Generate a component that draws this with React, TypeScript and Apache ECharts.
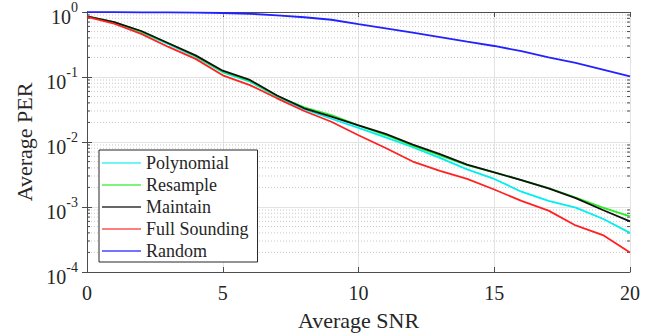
import React, { useEffect, useRef } from "react";
import * as echarts from "echarts";

const snr = [0, 1, 2, 3, 4, 5, 6, 7, 8, 9, 10, 11, 12, 13, 14, 15, 16, 17, 18, 19, 20];
const polynomial = [0.86, 0.69, 0.49, 0.32, 0.205, 0.118, 0.085, 0.05, 0.032, 0.0228, 0.0165, 0.0118, 0.0083, 0.0057, 0.0038, 0.0027, 0.00172, 0.00124, 0.00098, 0.00066, 0.0004];
const resample = [0.86, 0.7, 0.5, 0.33, 0.21, 0.122, 0.088, 0.051, 0.034, 0.026, 0.018, 0.0128, 0.0088, 0.0062, 0.0044, 0.0034, 0.0026, 0.00195, 0.0014, 0.00098, 0.00072];
const maintain = [0.86, 0.7, 0.51, 0.33, 0.215, 0.125, 0.09, 0.052, 0.033, 0.0245, 0.018, 0.0133, 0.0091, 0.0065, 0.0045, 0.0034, 0.0026, 0.00194, 0.00137, 0.0009, 0.0006];
const fullSounding = [0.84, 0.66, 0.46, 0.29, 0.19, 0.106, 0.075, 0.047, 0.03, 0.0205, 0.0127, 0.0081, 0.005, 0.0036, 0.0027, 0.00186, 0.00124, 0.00088, 0.00052, 0.00037, 0.0002];
const random = [0.995, 0.995, 0.99, 0.99, 0.98, 0.965, 0.94, 0.89, 0.83, 0.76, 0.65, 0.56, 0.48, 0.41, 0.35, 0.3, 0.25, 0.2, 0.165, 0.13, 0.102];

const seriesNames = ["Polynomial", "Resample", "Maintain", "Full Sounding", "Random"];
const seriesColors = ["#00eeee", "#22ee22", "#111111", "#ff2222", "#2222ff"];
const legendColors = ["#40f0f0", "#50f050", "#333333", "#ff5555", "#4444ff"];
const seriesValues = [polynomial, resample, maintain, fullSounding, random];

const minorMultipliers = [2, 3, 4, 5, 6, 7, 8, 9];
const decades = [1e-4, 1e-3, 1e-2, 1e-1];

const FONT = "Liberation Serif";
const TEXT = "#262626";
const AXIS = "#4d4d4d";

export default function App() {
  const ref = useRef<HTMLDivElement>(null);
  useEffect(() => {
    if (!ref.current) return;
    const chart = echarts.init(ref.current, undefined, { renderer: "svg" });
    const minorValues: number[][] = [];
    decades.forEach((d) => minorMultipliers.forEach((m) => minorValues.push([0, +(d * m).toPrecision(3)])));

    const lineSeries = seriesNames.map((name, i) => ({
      name,
      type: "line",
      data: snr.map((x, j) => [x, seriesValues[i][j]]),
      symbol: "none",
      showSymbol: false,
      lineStyle: { color: seriesColors[i], width: 1.8 },
      itemStyle: { color: seriesColors[i] },
      z: 3,
    }));

    const legendText = { fontFamily: FONT, fontSize: 18, color: TEXT, lineHeight: 22 };

    chart.setOption({
      animation: false,
      textStyle: { fontFamily: FONT },
      grid: { left: 87, top: 9, right: 41, bottom: 64, show: false },
      legend: {
        data: seriesNames.map((n, i) => ({
          name: n,
          itemStyle: { color: legendColors[i] },
          textStyle: legendText,
        })),
        orient: "vertical",
        left: 99,
        top: 150,
        padding: [2, 9, 0, 3],
        icon: "rect",
        itemWidth: 39,
        itemHeight: 1.5,
        itemGap: 0,
        backgroundColor: "#ffffff",
        borderColor: "#262626",
        borderWidth: 1,
        borderRadius: 0,
        textStyle: legendText,
      },
      xAxis: [
        {
          type: "value",
          min: 0,
          max: 20,
          interval: 5,
          name: "Average SNR",
          nameLocation: "middle",
          nameGap: 37,
          nameTextStyle: { fontFamily: FONT, fontSize: 22, color: TEXT },
          axisLine: { show: true, lineStyle: { color: AXIS, width: 1 } },
          axisTick: { show: true, inside: true, length: 5, lineStyle: { color: AXIS } },
          axisLabel: { fontFamily: FONT, fontSize: 20, color: TEXT, margin: 11 },
          splitLine: { show: true, lineStyle: { color: "#e3e3e3", width: 1 } },
        },
        {
          type: "value",
          position: "top",
          min: 0,
          max: 20,
          interval: 5,
          axisLine: { show: true, lineStyle: { color: AXIS, width: 1 } },
          axisTick: { show: true, inside: true, length: 5, lineStyle: { color: AXIS } },
          axisLabel: { show: false },
          splitLine: { show: false },
        },
      ],
      yAxis: [
        {
          type: "log",
          logBase: 10,
          min: 1e-4,
          max: 1,
          name: "Average PER",
          nameLocation: "middle",
          nameGap: 48,
          nameTextStyle: { fontFamily: FONT, fontSize: 22, color: TEXT },
          axisLine: { show: true, lineStyle: { color: AXIS, width: 1 } },
          axisTick: { show: true, inside: true, length: 5, lineStyle: { color: AXIS } },
          axisLabel: {
            margin: 9,
            fontFamily: FONT,
            formatter: (v: number) => `{b|10}{s|${Math.round(Math.log10(v))}}`,
            rich: {
              b: { fontFamily: FONT, fontSize: 20, color: TEXT, padding: [10, 0, 0, 0] },
              s: { fontFamily: FONT, fontSize: 14, color: TEXT, padding: [0, 0, 10, 0] },
            },
          },
          splitLine: { show: true, lineStyle: { color: "#e3e3e3", width: 1 } },
        },
        {
          type: "log",
          logBase: 10,
          min: 1e-4,
          max: 1,
          position: "right",
          axisLine: { show: true, lineStyle: { color: AXIS, width: 1 } },
          axisTick: { show: true, inside: true, length: 5, lineStyle: { color: AXIS } },
          axisLabel: { show: false },
          splitLine: { show: false },
        },
      ],
      series: [
        {
          type: "custom",
          silent: true,
          z: 1,
          clip: false,
          data: minorValues,
          encode: { x: 0, y: 1 },
          renderItem: (params: any, api: any) => {
            const v = api.value(1);
            const p0 = api.coord([0, v]);
            const p1 = api.coord([20, v]);
            return {
              type: "group",
              children: [
                {
                  type: "line",
                  shape: { x1: p0[0] + 1, y1: p0[1], x2: p1[0] - 1, y2: p1[1] },
                  style: { stroke: "#c8c8c8", lineWidth: 1, lineDash: [1, 2] },
                },
                {
                  type: "line",
                  shape: { x1: p0[0], y1: p0[1], x2: p0[0] + 3, y2: p0[1] },
                  style: { stroke: AXIS, lineWidth: 1 },
                },
                {
                  type: "line",
                  shape: { x1: p1[0] - 3, y1: p1[1], x2: p1[0], y2: p1[1] },
                  style: { stroke: AXIS, lineWidth: 1 },
                },
              ],
            };
          },
        },
        ...lineSeries,
      ],
    });
    return () => chart.dispose();
  }, []);
  return (
    <div
      ref={ref}
      style={{ position: "fixed", left: 0, top: 0, width: 671, height: 336, background: "#fff" }}
    />
  );
}
